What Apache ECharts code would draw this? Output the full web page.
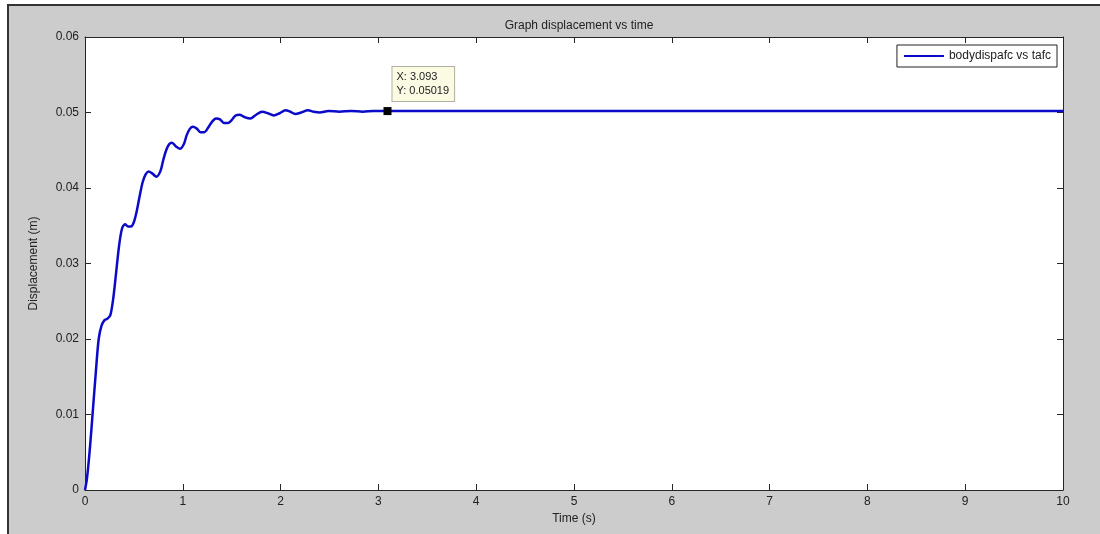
<!DOCTYPE html>
<html>
<head>
<meta charset="utf-8">
<script src="https://cdn.jsdelivr.net/npm/echarts@6/dist/echarts.min.js"></script>
<style>html,body{margin:0;padding:0;background:#fff;}#c{width:1100px;height:534px;}</style>
</head>
<body>
<div id="c"></div>
<script>
const timeS = [0, 0.02, 0.05, 0.08, 0.11, 0.14, 0.17, 0.20, 0.23, 0.26, 0.29, 0.32, 0.35, 0.38, 0.41, 0.44, 0.47, 0.50, 0.53, 0.56, 0.59, 0.62, 0.65, 0.69, 0.73, 0.77, 0.80, 0.83, 0.86, 0.89, 0.93, 0.97, 1.01, 1.04, 1.07, 1.10, 1.14, 1.18, 1.22, 1.26, 1.30, 1.34, 1.38, 1.42, 1.46, 1.50, 1.54, 1.58, 1.63, 1.69, 1.75, 1.81, 1.87, 1.93, 1.99, 2.05, 2.10, 2.15, 2.21, 2.28, 2.34, 2.40, 2.49, 2.60, 2.72, 2.84, 2.95, 3.093, 4, 6, 8, 10];
const dispM = [0, 0.0015, 0.0055, 0.0105, 0.0155, 0.0200, 0.0218, 0.0225, 0.0227, 0.0232, 0.0255, 0.0290, 0.0325, 0.0347, 0.0352, 0.0349, 0.0349, 0.0355, 0.0370, 0.0390, 0.0408, 0.0418, 0.0422, 0.0419, 0.0415, 0.0422, 0.0437, 0.0450, 0.0458, 0.0460, 0.0455, 0.0452, 0.0458, 0.0470, 0.0478, 0.0481, 0.0479, 0.0474, 0.0474, 0.0480, 0.0488, 0.0492, 0.0491, 0.0486, 0.0486, 0.0490, 0.0496, 0.0497, 0.0494, 0.0492, 0.0497, 0.0501, 0.0499, 0.0496, 0.0499, 0.0503, 0.0501, 0.0498, 0.0500, 0.0503, 0.0501, 0.0500, 0.0502, 0.0501, 0.0502, 0.0501, 0.0502, 0.05019, 0.0502, 0.0502, 0.0502, 0.0502];
const xTicks = [0, 1, 2, 3, 4, 5, 6, 7, 8, 9, 10];
const yTicks = [0, 0.01, 0.02, 0.03, 0.04, 0.05, 0.06];
const tipX = 3.093;
const tipY = 0.05019;
const seriesName = 'bodydispafc vs tafc';
const titleText = 'Graph displacement vs time';

const font = 'Arial, "Liberation Sans", sans-serif';
const axisCol = '#262626';
const chart = echarts.init(document.getElementById('c'), null, {renderer: 'canvas'});
const data = timeS.map((t, i) => [t, dispM[i]]);

const axX = (pos, showLabel) => ({
  type: 'value', position: pos, min: xTicks[0], max: xTicks[xTicks.length - 1], interval: 1,
  axisLine: {show: true, onZero: false, lineStyle: {color: axisCol, width: 1}},
  axisTick: {show: true, inside: true, length: 6, lineStyle: {color: axisCol}},
  axisLabel: {show: showLabel, color: '#222', fontFamily: font, fontSize: 12, margin: 6},
  splitLine: {show: false}
});
const axY = (pos, showLabel) => ({
  type: 'value', position: pos, min: yTicks[0], max: yTicks[yTicks.length - 1], interval: 0.01,
  axisLine: {show: true, onZero: false, lineStyle: {color: axisCol, width: 1}},
  axisTick: {show: true, inside: true, length: 6, lineStyle: {color: axisCol}},
  axisLabel: {show: showLabel, color: '#222', fontFamily: font, fontSize: 12, margin: 6,
    formatter: v => v === 0 ? '0' : v.toFixed(2)},
  splitLine: {show: false}
});

const xb = axX('bottom', true);
xb.name = 'Time (s)'; xb.nameLocation = 'middle'; xb.nameGap = 22;
xb.nameTextStyle = {color: '#222', fontFamily: font, fontSize: 12};
const yl = axY('left', true);
yl.name = 'Displacement (m)'; yl.nameLocation = 'middle'; yl.nameGap = 45;
yl.nameTextStyle = {color: '#222', fontFamily: font, fontSize: 12};

chart.setOption({
  animation: false,
  backgroundColor: '#ffffff',
  graphic: [{
    type: 'rect', z: -10, silent: true,
    shape: {x: 8, y: 5, width: 1200, height: 700},
    style: {fill: '#cccccc', stroke: '#333333', lineWidth: 2}
  }],
  title: {
    text: titleText, left: 574, top: 15, textAlign: 'center',
    textStyle: {fontFamily: font, fontSize: 12, fontWeight: 'normal', color: '#222'}
  },
  legend: {
    right: 43, top: 45, orient: 'vertical',
    backgroundColor: '#ffffff', borderColor: '#222', borderWidth: 1, borderRadius: 0,
    padding: [5, 6, 5, 7],
    itemWidth: 40, itemHeight: 10, itemGap: 4,
    textStyle: {fontFamily: font, fontSize: 12, color: '#222'},
    data: [{name: seriesName, icon: 'path://M0,0 L40,0 L40,2 L0,2 Z'}]
  },
  grid: {left: 85, right: 37, top: 37, bottom: 44, show: true, backgroundColor: '#ffffff', borderWidth: 0},
  xAxis: [xb, axX('top', false)],
  yAxis: [yl, axY('right', false)],
  series: [{
    name: seriesName, type: 'line', data: data, xAxisIndex: 0, yAxisIndex: 0,
    symbol: 'none', smooth: 0.3,
    lineStyle: {color: '#0a0ac8', width: 2.5}, itemStyle: {color: '#0a0ac8'},
    markPoint: {
      symbol: 'rect', symbolSize: 8,
      itemStyle: {color: '#000'},
      data: [{coord: [tipX, tipY], value: tipY}],
      label: {
        show: true, position: [9, -40],
        formatter: () => 'X: ' + tipX + '\nY: ' + tipY,
        backgroundColor: '#fbfbe4', borderColor: '#b0b0a0', borderWidth: 1,
        padding: [3, 5, 3, 4], lineHeight: 14,
        fontFamily: font, fontSize: 11, color: '#222', align: 'left', verticalAlign: 'top'
      }
    }
  }]
});
</script>
</body>
</html>
